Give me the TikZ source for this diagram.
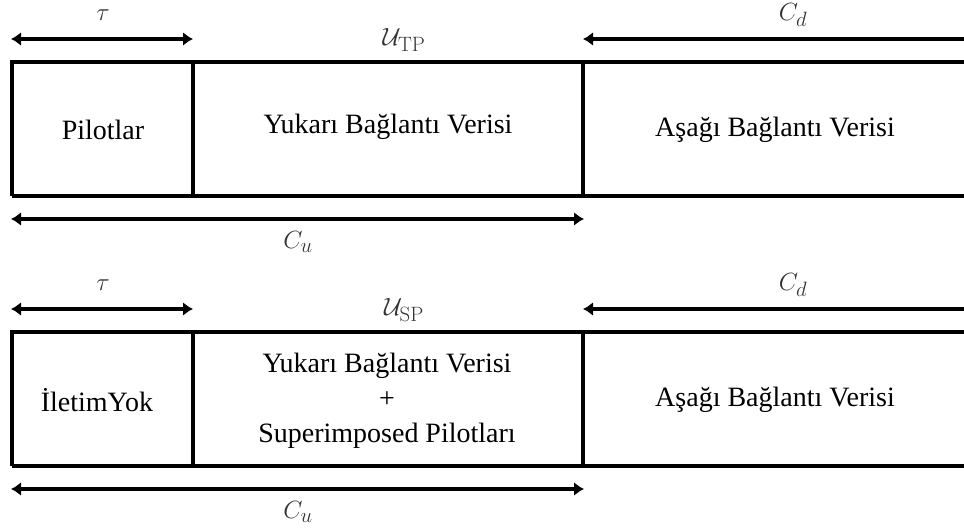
\documentclass[tikz,border=0pt]{standalone}
\usepackage[no-math]{fontspec}
\setmainfont{Liberation Serif}
\usetikzlibrary{arrows.meta}

\begin{document}
\begin{tikzpicture}[x=1pt,y=-1pt,
  frame/.style={line width=3.8pt, line join=miter},
  dimline/.style={line width=4pt},
  tip/.tip={Latex[length=10pt,width=14pt]},
  bothends/.style={dimline, tip-tip},
  leftend/.style={dimline, tip-},
  cell/.style={font=\fontsize{28}{35}\selectfont, align=center, inner sep=0pt},
  lab/.style={font=\fontsize{32}{34}\selectfont, text=black!80, inner sep=0pt}]

\useasboundingbox (0,0) rectangle (964,529);

% two frame layouts, the lower one shifted down by 270pt
\foreach \off/\nm in {0/a,270/b}{
  \coordinate (\nm-tl)  at (12,62+\off);
  \coordinate (\nm-bl)  at (12,196+\off);
  \coordinate (\nm-tr)  at (980,62+\off);
  \coordinate (\nm-br)  at (980,196+\off);
  \coordinate (\nm-d1t) at (193,62+\off);
  \coordinate (\nm-d1b) at (193,196+\off);
  \coordinate (\nm-d2t) at (583,62+\off);
  \coordinate (\nm-d2b) at (583,196+\off);
  % dimension line end points
  \coordinate (\nm-tauL) at (11,39+\off);
  \coordinate (\nm-tauR) at (193,39+\off);
  \coordinate (\nm-cdL)  at (583,39+\off);
  \coordinate (\nm-cdR)  at (980,39+\off);
  \coordinate (\nm-cuL)  at (11,219+\off);
  \coordinate (\nm-cuR)  at (584,219+\off);

  \draw[frame] (\nm-bl) -- (\nm-tl) -- (\nm-tr);
  \draw[frame] (\nm-bl) -- (\nm-br);
  \draw[frame] (\nm-d1t) -- (\nm-d1b);
  \draw[frame] (\nm-d2t) -- (\nm-d2b);

  \draw[bothends] (\nm-tauL) -- (\nm-tauR);
  \draw[leftend]  (\nm-cdL) -- (\nm-cdR);
  \draw[bothends] (\nm-cuL) -- (\nm-cuR);

  \node[lab] (\nm-tau) at (103,15+\off) {$\tau$};
  \node[lab] (\nm-cd)  at (793,15+\off) {$C_d$};
  \node[lab] (\nm-cu)  at (298,242+\off) {$C_u$};
}

\node[lab] (a-u) at (404,40)  {$\mathcal{U}_{\mathrm{TP}}$};
\node[lab] (b-u) at (404,310) {$\mathcal{U}_{\mathrm{SP}}$};

% cell texts
\node[cell] (a-pil)  at (103,130) {Pilotlar};
\node[cell] (a-up)   at (388,127) {Yukarı Bağlantı Verisi};
\node[cell] (a-down) at (775,130) {Aşağı Bağlantı Verisi};

\node[cell] (b-none) at (97,400)  {İletimYok};
\node[cell] (b-up)   at (387,401) {Yukarı Bağlantı Verisi\\+\\Superimposed Pilotları};
\node[cell] (b-down) at (775,400) {Aşağı Bağlantı Verisi};

\end{tikzpicture}
\end{document}
